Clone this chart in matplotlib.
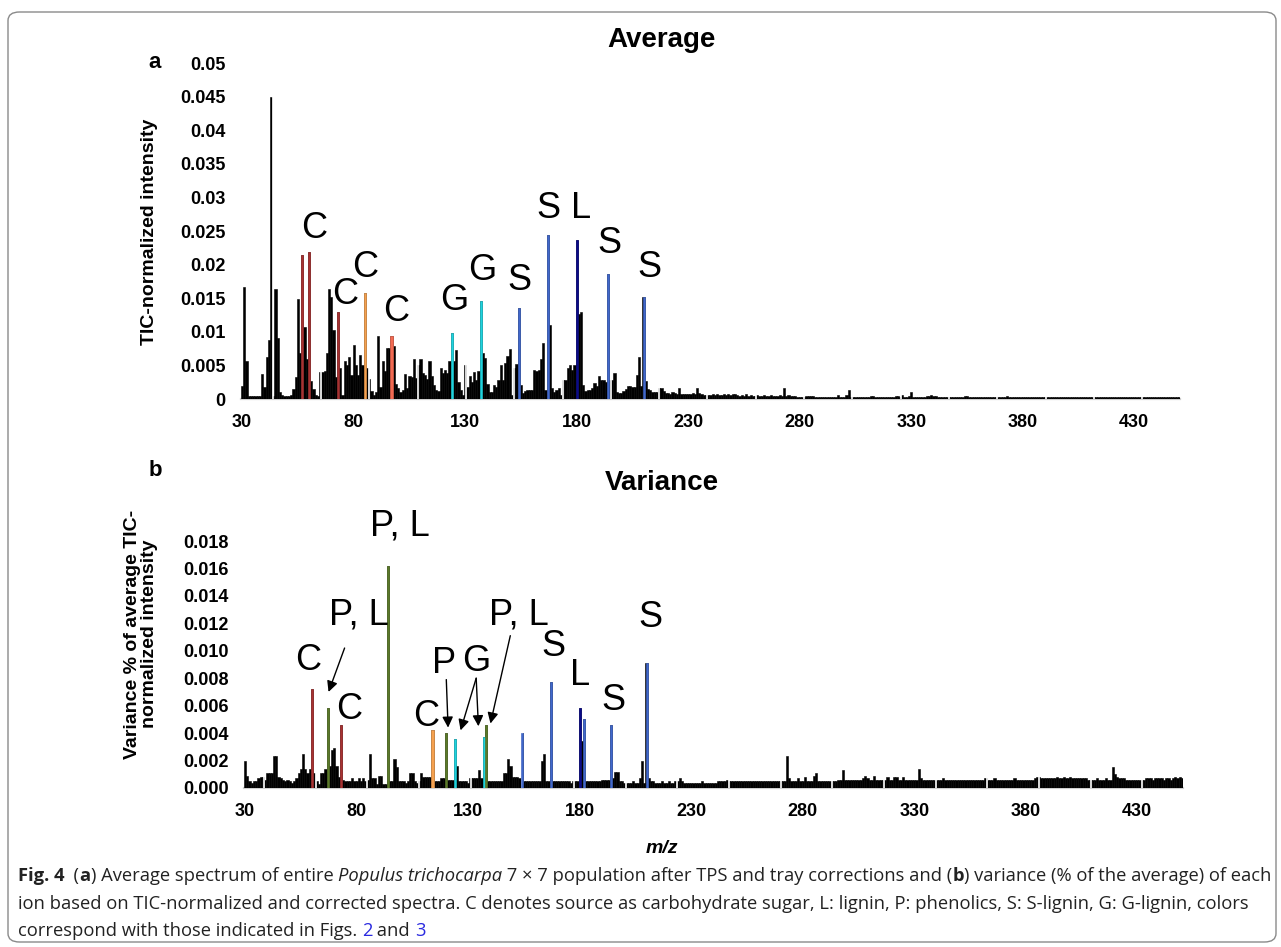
import numpy as np
import matplotlib.pyplot as plt
from matplotlib.patches import FancyBboxPatch
from matplotlib import font_manager

W, H = 1281, 947

# m/z axis 30..450
mz = np.arange(30, 451)

# average TIC-normalized intensity per m/z
avg = [
    0.0020, 0.0166, 0.0056, 0.0004, 0.0004, 0.0004, 0.0004, 0.0004, 0.0004, 0.0037,
    0.0018, 0.0062, 0.0088, 0.0449, 0.0004, 0.0164, 0.0091, 0.0010, 0.0006, 0.0004,
    0.0004, 0.0004, 0.0006, 0.0015, 0.0033, 0.0149, 0.0068, 0.0214, 0.0107, 0.0060,
    0.0219, 0.0027, 0.0015, 0.0006, 0.0004, 0.0040, 0.0040, 0.0042, 0.0069, 0.0164,
    0.0152, 0.0103, 0.0032, 0.0129, 0.0046, 0.0006, 0.0057, 0.0050, 0.0063, 0.0036,
    0.0081, 0.0050, 0.0036, 0.0065, 0.0050, 0.0158, 0.0046, 0.0030, 0.0012, 0.0006,
    0.0011, 0.0094, 0.0018, 0.0056, 0.0041, 0.0076, 0.0076, 0.0094, 0.0079, 0.0022,
    0.0016, 0.0011, 0.0013, 0.0037, 0.0016, 0.0034, 0.0033, 0.0059, 0.0031, 0.0050,
    0.0059, 0.0039, 0.0036, 0.0030, 0.0057, 0.0034, 0.0021, 0.0013, 0.0012, 0.0046,
    0.0039, 0.0043, 0.0039, 0.0057, 0.0098, 0.0056, 0.0073, 0.0025, 0.0013, 0.0006,
    0.0051, 0.0018, 0.0034, 0.0026, 0.0040, 0.0028, 0.0042, 0.0146, 0.0069, 0.0061,
    0.0023, 0.0010, 0.0010, 0.0021, 0.0018, 0.0028, 0.0050, 0.0028, 0.0053, 0.0064,
    0.0075, 0.0006, 0.0046, 0.0052, 0.0135, 0.0021, 0.0009, 0.0012, 0.0014, 0.0014,
    0.0014, 0.0043, 0.0041, 0.0043, 0.0059, 0.0084, 0.0013, 0.0244, 0.0110, 0.0017,
    0.0010, 0.0014, 0.0017, 0.0006, 0.0028, 0.0028, 0.0046, 0.0051, 0.0043, 0.0050,
    0.0237, 0.0126, 0.0129, 0.0021, 0.0012, 0.0013, 0.0014, 0.0017, 0.0024, 0.0019,
    0.0034, 0.0028, 0.0029, 0.0026, 0.0186, 0.0028, 0.0028, 0.0039, 0.0011, 0.0009,
    0.0009, 0.0012, 0.0015, 0.0020, 0.0020, 0.0018, 0.0018, 0.0035, 0.0063, 0.0020,
    0.0152, 0.0027, 0.0015, 0.0013, 0.0011, 0.0010, 0.0011, 0.0016, 0.0017, 0.0012,
    0.0009, 0.0009, 0.0008, 0.0010, 0.0009, 0.0008, 0.0016, 0.0008, 0.0007, 0.0008,
    0.0007, 0.0008, 0.0009, 0.0008, 0.0017, 0.0009, 0.0007, 0.0006, 0.0006, 0.0006,
    0.0006, 0.0007, 0.0006, 0.0007, 0.0006, 0.0006, 0.0008, 0.0006, 0.0007, 0.0006,
    0.0007, 0.0008, 0.0006, 0.0005, 0.0006, 0.0005, 0.0007, 0.0005, 0.0006, 0.0005,
    0.0005, 0.0006, 0.0005, 0.0005, 0.0006, 0.0005, 0.0005, 0.0006, 0.0005, 0.0005,
    0.0005, 0.0006, 0.0005, 0.0017, 0.0005, 0.0006, 0.0004, 0.0004, 0.0004, 0.0003,
    0.0003, 0.0003, 0.0003, 0.0004, 0.0005, 0.0004, 0.0005, 0.0003, 0.0003, 0.0003,
    0.0003, 0.0003, 0.0003, 0.0003, 0.0003, 0.0003, 0.0003, 0.0006, 0.0003, 0.0003,
    0.0003, 0.0006, 0.0013, 0.0003, 0.0003, 0.0003, 0.0003, 0.0003, 0.0003, 0.0003,
    0.0003, 0.0003, 0.0004, 0.0004, 0.0003, 0.0003, 0.0003, 0.0003, 0.0003, 0.0003,
    0.0003, 0.0003, 0.0003, 0.0005, 0.0004, 0.0003, 0.0006, 0.0003, 0.0003, 0.0004,
    0.0010, 0.0003, 0.0003, 0.0003, 0.0003, 0.0003, 0.0003, 0.0005, 0.0004, 0.0006,
    0.0004, 0.0005, 0.0003, 0.0003, 0.0003, 0.0003, 0.0003, 0.0003, 0.0003, 0.0003,
    0.0003, 0.0003, 0.0003, 0.0003, 0.0004, 0.0005, 0.0003, 0.0003, 0.0003, 0.0003,
    0.0003, 0.0003, 0.0003, 0.0003, 0.0003, 0.0003, 0.0003, 0.0003, 0.0003, 0.0003,
    0.0003, 0.0003, 0.0003, 0.0004, 0.0003, 0.0003, 0.0003, 0.0003, 0.0003, 0.0003,
    0.0003, 0.0003, 0.0003, 0.0003, 0.0003, 0.0003, 0.0003, 0.0003, 0.0003, 0.0003,
    0.0003, 0.0003, 0.0003, 0.0003, 0.0003, 0.0003, 0.0003, 0.0003, 0.0003, 0.0003,
    0.0003, 0.0003, 0.0003, 0.0003, 0.0003, 0.0003, 0.0003, 0.0003, 0.0003, 0.0003,
    0.0003, 0.0003, 0.0003, 0.0003, 0.0003, 0.0003, 0.0003, 0.0003, 0.0003, 0.0003,
    0.0003, 0.0003, 0.0003, 0.0003, 0.0003, 0.0003, 0.0003, 0.0003, 0.0003, 0.0003,
    0.0003, 0.0003, 0.0003, 0.0003, 0.0003, 0.0003, 0.0003, 0.0003, 0.0003, 0.0003,
    0.0003, 0.0003, 0.0003, 0.0003, 0.0003, 0.0003, 0.0003, 0.0003, 0.0003, 0.0003,
    0.0003,
]

# variance (% of average) per m/z
var = [
    0.0020, 0.0009, 0.0005, 0.0004, 0.0005, 0.0005, 0.0007, 0.0008, 0.0008, 0.0006,
    0.0011, 0.0011, 0.0011, 0.0023, 0.0023, 0.0008, 0.0007, 0.0006, 0.0005, 0.0006,
    0.0005, 0.0004, 0.0005, 0.0007, 0.0011, 0.0014, 0.0025, 0.0014, 0.0011, 0.0014,
    0.0072, 0.0011, 0.0005, 0.0003, 0.0011, 0.0011, 0.0014, 0.0058, 0.0016, 0.0028,
    0.0029, 0.0016, 0.0008, 0.0046, 0.0006, 0.0005, 0.0005, 0.0005, 0.0007, 0.0005,
    0.0005, 0.0007, 0.0005, 0.0007, 0.0005, 0.0006, 0.0025, 0.0007, 0.0007, 0.0003,
    0.0009, 0.0009, 0.0003, 0.0003, 0.0162, 0.0005, 0.0005, 0.0021, 0.0015, 0.0005,
    0.0005, 0.0005, 0.0004, 0.0005, 0.0011, 0.0011, 0.0005, 0.0004, 0.0005, 0.0011,
    0.0008, 0.0008, 0.0008, 0.0008, 0.0042, 0.0005, 0.0005, 0.0005, 0.0007, 0.0007,
    0.0040, 0.0006, 0.0006, 0.0006, 0.0036, 0.0016, 0.0005, 0.0005, 0.0005, 0.0005,
    0.0004, 0.0007, 0.0007, 0.0007, 0.0007, 0.0013, 0.0007, 0.0037, 0.0046, 0.0005,
    0.0005, 0.0005, 0.0005, 0.0005, 0.0005, 0.0005, 0.0011, 0.0011, 0.0021, 0.0016,
    0.0008, 0.0008, 0.0008, 0.0007, 0.0040, 0.0005, 0.0005, 0.0005, 0.0005, 0.0005,
    0.0005, 0.0005, 0.0005, 0.0020, 0.0025, 0.0005, 0.0005, 0.0077, 0.0005, 0.0005,
    0.0005, 0.0005, 0.0005, 0.0005, 0.0005, 0.0005, 0.0004, 0.0005, 0.0005, 0.0005,
    0.0058, 0.0034, 0.0050, 0.0005, 0.0005, 0.0005, 0.0005, 0.0005, 0.0005, 0.0005,
    0.0006, 0.0006, 0.0006, 0.0006, 0.0046, 0.0007, 0.0012, 0.0012, 0.0005, 0.0005,
    0.0004, 0.0004, 0.0004, 0.0004, 0.0005, 0.0004, 0.0004, 0.0007, 0.0020, 0.0004,
    0.0091, 0.0007, 0.0005, 0.0005, 0.0004, 0.0004, 0.0004, 0.0005, 0.0004, 0.0004,
    0.0005, 0.0004, 0.0004, 0.0005, 0.0005, 0.0007, 0.0005, 0.0004, 0.0004, 0.0004,
    0.0004, 0.0004, 0.0004, 0.0004, 0.0004, 0.0005, 0.0004, 0.0004, 0.0004, 0.0004,
    0.0004, 0.0004, 0.0005, 0.0005, 0.0005, 0.0005, 0.0006, 0.0005, 0.0005, 0.0005,
    0.0005, 0.0005, 0.0005, 0.0005, 0.0005, 0.0005, 0.0005, 0.0005, 0.0005, 0.0005,
    0.0005, 0.0005, 0.0005, 0.0005, 0.0005, 0.0005, 0.0005, 0.0005, 0.0005, 0.0005,
    0.0005, 0.0005, 0.0005, 0.0023, 0.0007, 0.0005, 0.0005, 0.0005, 0.0007, 0.0005,
    0.0005, 0.0008, 0.0005, 0.0005, 0.0005, 0.0009, 0.0011, 0.0005, 0.0005, 0.0005,
    0.0005, 0.0005, 0.0005, 0.0005, 0.0005, 0.0005, 0.0006, 0.0006, 0.0013, 0.0006,
    0.0006, 0.0006, 0.0006, 0.0006, 0.0006, 0.0006, 0.0006, 0.0007, 0.0009, 0.0007,
    0.0006, 0.0006, 0.0009, 0.0006, 0.0006, 0.0006, 0.0006, 0.0006, 0.0008, 0.0006,
    0.0006, 0.0008, 0.0008, 0.0006, 0.0006, 0.0008, 0.0006, 0.0006, 0.0006, 0.0006,
    0.0006, 0.0006, 0.0014, 0.0007, 0.0006, 0.0006, 0.0006, 0.0006, 0.0006, 0.0006,
    0.0006, 0.0006, 0.0006, 0.0007, 0.0006, 0.0006, 0.0006, 0.0006, 0.0006, 0.0006,
    0.0006, 0.0006, 0.0006, 0.0006, 0.0006, 0.0006, 0.0006, 0.0006, 0.0006, 0.0006,
    0.0006, 0.0006, 0.0007, 0.0006, 0.0006, 0.0006, 0.0007, 0.0006, 0.0006, 0.0006,
    0.0006, 0.0006, 0.0006, 0.0006, 0.0006, 0.0007, 0.0006, 0.0006, 0.0006, 0.0006,
    0.0006, 0.0006, 0.0006, 0.0006, 0.0007, 0.0008, 0.0008, 0.0007, 0.0007, 0.0007,
    0.0007, 0.0007, 0.0007, 0.0007, 0.0008, 0.0007, 0.0007, 0.0008, 0.0007, 0.0007,
    0.0008, 0.0007, 0.0007, 0.0007, 0.0007, 0.0007, 0.0007, 0.0007, 0.0006, 0.0006,
    0.0006, 0.0006, 0.0007, 0.0006, 0.0006, 0.0006, 0.0007, 0.0006, 0.0006, 0.0015,
    0.0010, 0.0008, 0.0007, 0.0007, 0.0007, 0.0006, 0.0006, 0.0006, 0.0006, 0.0006,
    0.0006, 0.0006, 0.0006, 0.0006, 0.0007, 0.0007, 0.0007, 0.0006, 0.0007, 0.0007,
    0.0007, 0.0007, 0.0006, 0.0007, 0.0007, 0.0006, 0.0007, 0.0008, 0.0007, 0.0008,
    0.0007,
]

RED, ORANGE, TOMATO = '#a83232', '#f5a14f', '#f26a52'
CYAN, BLUE, NAVY, OLIVE = '#1fd3de', '#4168cc', '#0b0b88', '#5b7a29'

# highlighted ions (m/z, colour)
avg_hl_mz = [57, 60, 73, 85, 97, 124, 137, 154, 167, 180, 194, 210]
avg_hl_col = [RED, RED, RED, ORANGE, TOMATO, CYAN, CYAN, BLUE, BLUE, NAVY, BLUE, BLUE]
var_hl_mz = [60, 67, 73, 94, 114, 120, 124, 137, 138, 154, 167, 180, 182, 194, 210]
var_hl_col = [RED, OLIVE, RED, OLIVE, ORANGE, OLIVE, CYAN, CYAN, OLIVE, BLUE, BLUE, NAVY,
              BLUE, BLUE, BLUE]

# peak annotations: text, (x, y) in data coords
avg_labels = [('C', 62.1, 0.0253), ('C', 76.3, 0.0155), ('C', 85.2, 0.0195), ('C', 99.0, 0.0130),
              ('G', 125.1, 0.0146), ('G', 137.7, 0.0191), ('S', 154.3, 0.0177),
              ('S', 167.3, 0.0283), ('L', 181.9, 0.0283), ('S', 194.6, 0.0232), ('S', 212.5, 0.0195)]
var_labels = [('P, L', 99.6, 0.0191), ('P, L', 80.8, 0.0126), ('C', 58.2, 0.0093),
              ('C', 76.7, 0.0057), ('C', 111.2, 0.0052), ('P', 119.0, 0.0091),
              ('G', 133.5, 0.0092), ('P, L', 152.6, 0.0126), ('S', 168.3, 0.0103),
              ('L', 180.3, 0.0082), ('S', 195.2, 0.0064), ('S', 211.6, 0.0124)]
# arrows: (start x, start y, tip x, tip y)
var_arrows = [(74.6, 0.0102, 67.4, 0.0070), (120.2, 0.0079, 121.0, 0.0044),
              (133.6, 0.0080, 126.6, 0.0042), (133.6, 0.0080, 134.6, 0.0045),
              (148.9, 0.0111, 140.0, 0.0047)]

avg_yticks = [0, 0.005, 0.01, 0.015, 0.02, 0.025, 0.03, 0.035, 0.04, 0.045, 0.05]
avg_yticklabels = ['0', '0.005', '0.01', '0.015', '0.02', '0.025', '0.03', '0.035', '0.04', '0.045', '0.05']
var_yticks = [0, 0.002, 0.004, 0.006, 0.008, 0.010, 0.012, 0.014, 0.016, 0.018]
var_yticklabels = ['0.000', '0.002', '0.004', '0.006', '0.008', '0.010', '0.012', '0.014', '0.016', '0.018']
xticks = [30, 80, 130, 180, 230, 280, 330, 380, 430]

FONT = ['Liberation Sans', 'DejaVu Sans']
plt.rcParams['font.family'] = FONT

fig = plt.figure(figsize=(W / 100, H / 100), dpi=100)


def px_axes(l, t, r, b):
    return fig.add_axes([l / W, 1 - b / H, (r - l) / W, (b - t) / H])


def style(ax, yticks, ylabels, ymax):
    ax.set_xlim(29.5, 450.5)
    ax.set_ylim(0, ymax)
    ax.set_xticks(xticks)
    ax.set_xticklabels([str(v) for v in xticks])
    ax.set_yticks(yticks)
    ax.set_yticklabels(ylabels)
    ax.tick_params(length=0, labelsize=13, pad=11)
    for lab in ax.get_xticklabels() + ax.get_yticklabels():
        lab.set_fontweight('bold')
    for s in ('top', 'right', 'left'):
        ax.spines[s].set_visible(False)
    ax.spines['bottom'].set_color('#cfcfcf')
    ax.spines['bottom'].set_linewidth(1.6)
    ax.spines['bottom'].set_zorder(1)
    ax.patch.set_alpha(0)


def spectrum(ax, vals, hl_mz, hl_col, gap0, gap_step):
    ax.bar(mz, vals, width=1.0, color='black', edgecolor='black', linewidth=0.4, zorder=2)
    for g in np.arange(gap0, 451, gap_step):
        ax.axvline(g, color='white', lw=1.2, zorder=2.5)
    lookup = dict(zip(mz, vals))
    ax.bar(hl_mz, [lookup[m] for m in hl_mz], width=0.95, color=hl_col, edgecolor=hl_col,
           linewidth=0.4, zorder=3)


ax1 = px_axes(241, 63, 1180, 399)
spectrum(ax1, avg, avg_hl_mz, avg_hl_col, 43.7, 21.66)
style(ax1, avg_yticks, avg_yticklabels, 0.05)
for t, x, y in avg_labels:
    ax1.text(x, y, t, fontsize=26, ha='center', va='center')

ax2 = px_axes(244, 541, 1183, 788)
spectrum(ax2, var, var_hl_mz, var_hl_col, 38.5, 23.16)
style(ax2, var_yticks, var_yticklabels, 0.018)
for t, x, y in var_labels:
    ax2.text(x, y, t, fontsize=26, ha='center', va='center', clip_on=False)
for x0, y0, x1, y1 in var_arrows:
    ax2.annotate('', xy=(x1, y1), xytext=(x0, y0), annotation_clip=False,
                 arrowprops=dict(arrowstyle='-|>', color='black', lw=1.0,
                                 mutation_scale=16, shrinkA=0, shrinkB=0))

# titles, panel letters, axis labels
fig.text(662 / W, 1 - 40 / H, 'Average', fontsize=20, weight='bold', ha='center', va='center')
fig.text(662 / W, 1 - 483 / H, 'Variance', fontsize=20, weight='bold', ha='center', va='center')
fig.text(155 / W, 1 - 63 / H, 'a', fontsize=16, weight='bold', ha='center', va='center')
fig.text(155 / W, 1 - 470 / H, 'b', fontsize=16, weight='bold', ha='center', va='center')
fig.text(150 / W, 1 - 232 / H, 'TIC-normalized intensity', fontsize=14, weight='bold',
         rotation=90, ha='center', va='center')
fig.text(141 / W, 1 - 634 / H, 'Variance % of average TIC-\nnormalized intensity', fontsize=14,
         weight='bold', rotation=90, ha='center', va='center', linespacing=1.05)
fig.text(662 / W, 1 - 848 / H, 'm/z', fontsize=14, weight='bold', style='italic',
         ha='center', va='center')

# frame
fig.patches.append(FancyBboxPatch((8 / W, 1 - 942 / H), 1268 / W, 930 / H,
                                  boxstyle='round,pad=0,rounding_size=0.009',
                                  transform=fig.transFigure, fill=False,
                                  edgecolor='#8a8a8a', lw=1.0))


# caption: pick a sans family that has a real bold face
def has_bold(name):
    for f in font_manager.fontManager.ttflist:
        if f.name == name:
            w = f.weight
            if (isinstance(w, int) and w >= 600) or str(w).lower() in ('bold', '700', 'semibold'):
                return True
    return False


cap_font = ['Liberation Sans', 'DejaVu Sans']
for cand in ['Noto Sans', 'Open Sans', 'Lato', 'Roboto']:
    if has_bold(cand):
        cap_font = [cand, 'DejaVu Sans']
        break

renderer = fig.canvas.get_renderer()
CAP = '#222222'
LINK = '#2a2ae0'
cap_lines = [
    [('Fig. 4', 'bold', 'normal', CAP), ('  (', 'normal', 'normal', CAP), ('a', 'bold', 'normal', CAP),
     (') Average spectrum of entire ', 'normal', 'normal', CAP),
     ('Populus trichocarpa', 'normal', 'italic', CAP),
     (' 7 \u00d7 7 population after TPS and tray corrections and (', 'normal', 'normal', CAP),
     ('b', 'bold', 'normal', CAP), (') variance (% of the average) of each', 'normal', 'normal', CAP)],
    [('ion based on TIC-normalized and corrected spectra. C denotes source as carbohydrate sugar, '
      'L: lignin, P: phenolics, S: S-lignin, G: G-lignin, colors', 'normal', 'normal', CAP)],
    [('correspond with those indicated in Figs. ', 'normal', 'normal', CAP), ('2', 'normal', 'normal', LINK),
     (' and ', 'normal', 'normal', CAP), ('3', 'normal', 'normal', LINK)],
]


def advance(s, size, weight, st):
    kw = dict(fontsize=size, family=cap_font, weight=weight, style=st)
    t1 = fig.text(0, 0, 'x' + s + 'x', **kw)
    t2 = fig.text(0, 0, 'xx', **kw)
    w = t1.get_window_extent(renderer).width - t2.get_window_extent(renderer).width
    t1.remove()
    t2.remove()
    return w


line1_w = sum(advance(s, 10, w, st) for s, w, st, c in cap_lines[0])
cap_size = 10 * 1257 / line1_w

for (run, base) in zip(cap_lines, [881, 909, 936]):
    x = 18
    for s, w, st, c in run:
        fig.text(x / W, 1 - base / H, s, fontsize=cap_size, family=cap_font, weight=w,
                 style=st, color=c, va='baseline')
        x += advance(s, cap_size, w, st)

fig.savefig('out.png', dpi=100)
